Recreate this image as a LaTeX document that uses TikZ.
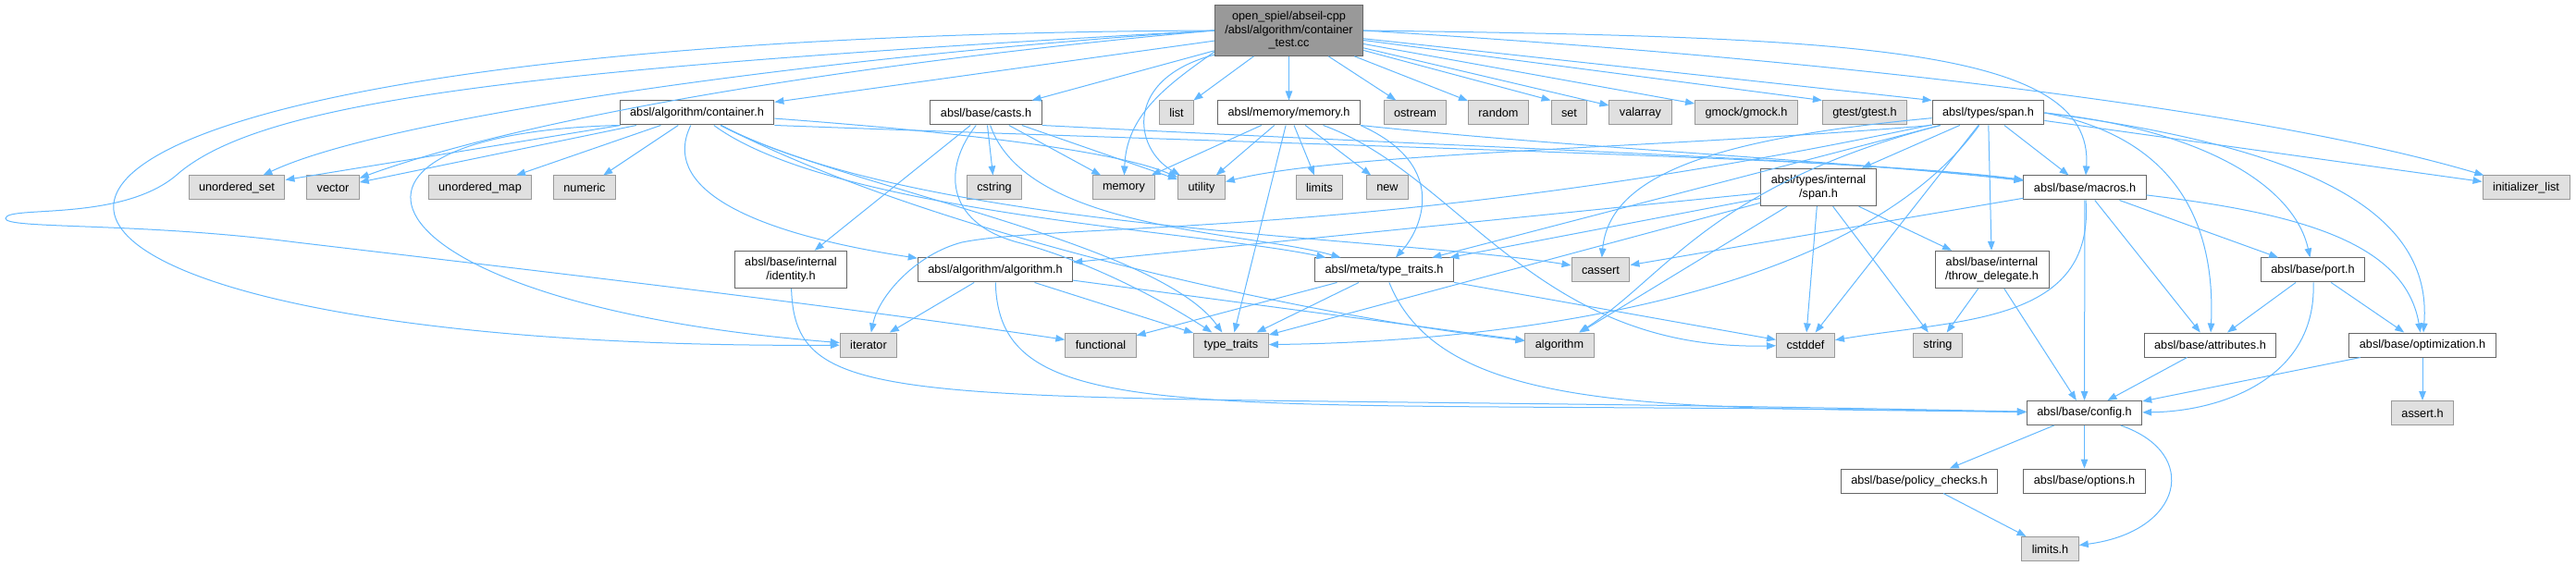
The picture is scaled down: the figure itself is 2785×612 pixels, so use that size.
\documentclass[tikz,border=0pt]{standalone}
\usepackage{fontspec}
\setmainfont{Liberation Sans}
\usepackage{tikz}
\usetikzlibrary{arrows.meta}
\definecolor{edgeblue}{HTML}{63B8FF}
\definecolor{rootgray}{HTML}{999999}
\definecolor{sysfill}{HTML}{E0E0E0}
\definecolor{sysline}{HTML}{999999}
\definecolor{hdrline}{HTML}{666666}

\begin{document}
\begin{tikzpicture}[x=1pt,y=1pt,
  box/.style={rectangle,inner xsep=11pt,inner ysep=7pt,minimum height=26pt,
    line width=1pt,align=center,font=\fontsize{12.7pt}{14.5pt}\selectfont},
  hdr/.style={box,draw=hdrline,fill=white},
  sys/.style={box,draw=sysline,fill=sysfill},
  mainfile/.style={box,draw=hdrline,fill=rootgray},
  dep/.style={draw=edgeblue,line width=1pt,-{Triangle[length=10pt,width=7.5pt]}}]
  \useasboundingbox (0,0) rectangle (2785,-612);

  % The test file
  \node[mainfile] (root) at (1393.5,-33) {open\_spiel/abseil-cpp\\/absl/algorithm/container\\\_test.cc};

  % First row of includes
  \node[hdr] (cont) at (753.5,-122) {absl/algorithm/container.h};
  \node[hdr] (casts) at (1066,-122) {absl/base/casts.h};
  \node[sys] (lst) at (1272,-122) {list};
  \node[hdr] (memh) at (1393.5,-122) {absl/memory/memory.h};
  \node[sys] (ostr) at (1530,-122) {ostream};
  \node[sys] (rnd) at (1620,-122) {random};
  \node[sys] (setn) at (1696.5,-122) {set};
  \node[sys] (valarr) at (1773.5,-122) {valarray};
  \node[sys] (gmock) at (1888,-122) {gmock/gmock.h};
  \node[sys] (gtest) at (2016,-122) {gtest/gtest.h};
  \node[hdr] (span) at (2149.5,-122) {absl/types/span.h};

  % Second row
  \node[sys] (uset) at (256,-203) {unordered\_set};
  \node[sys] (vec) at (360,-203) {vector};
  \node[sys] (umap) at (519,-203) {unordered\_map};
  \node[sys] (numeric) at (632,-203) {numeric};
  \node[sys] (cstring) at (1075,-203) {cstring};
  \node[sys] (memory) at (1215,-203) {memory};
  \node[sys] (utility) at (1299,-203) {utility};
  \node[sys] (limits) at (1426.5,-203) {limits};
  \node[sys] (newhdr) at (1500,-203) {new};
  \node[hdr] (ispan) at (1966,-202.5) {absl/types/internal\\/span.h};
  \node[hdr] (macros) at (2254,-203) {absl/base/macros.h};
  \node[sys] (initl) at (2731,-203) {initializer\_list};

  % Third row
  \node[hdr] (identity) at (855,-291.5) {absl/base/internal\\/identity.h};
  \node[hdr] (algh) at (1076,-292) {absl/algorithm/algorithm.h};
  \node[hdr] (mtt) at (1496.5,-292) {absl/meta/type\_traits.h};
  \node[sys] (cassert) at (1730.5,-292) {cassert};
  \node[hdr] (throwd) at (2153.5,-291.5) {absl/base/internal\\/throw\_delegate.h};
  \node[hdr] (port) at (2500.5,-292) {absl/base/port.h};

  % Fourth row
  \node[sys] (iterator) at (939,-373) {iterator};
  \node[sys] (functional) at (1190,-373) {functional};
  \node[sys] (typetr) at (1331,-373) {type\_traits};
  \node[sys] (algorithm) at (1686,-373) {algorithm};
  \node[sys] (cstddef) at (1952,-373) {cstddef};
  \node[sys] (string) at (2095,-373) {string};
  \node[hdr] (attrs) at (2389.5,-373) {absl/base/attributes.h};
  \node[hdr] (optim) at (2619,-373) {absl/base/optimization.h};

  % Bottom rows
  \node[hdr] (config) at (2253.5,-446.5) {absl/base/config.h};
  \node[sys] (asserth) at (2619,-446.5) {assert.h};
  \node[hdr] (policy) at (2075,-520) {absl/base/policy\_checks.h};
  \node[hdr] (options) at (2253.5,-520) {absl/base/options.h};
  \node[sys] (limitsh) at (2216.5,-593.5) {limits.h};

  % Edges from the test file
  \draw[dep] (root) -- (cont);
  \draw[dep] (root) -- (casts);
  \draw[dep] (root) -- (lst);
  \draw[dep] (root) -- (memh);
  \draw[dep] (root.196) to[out=215,in=88] (memory);
  \draw[dep] (root.198) .. controls (1215,-85) and (1225,-160) .. (utility);
  \draw[dep] (root) -- (ostr);
  \draw[dep] (root) -- (rnd);
  \draw[dep] (root) -- (setn.north west);
  \draw[dep] (root) -- (valarr);
  \draw[dep] (root) -- (gmock);
  \draw[dep] (root) -- (gtest.north west);
  \draw[dep] (root) -- (span.north west);
  \draw[dep] (root.east) .. controls (2000,-40) and (2265,-50) .. (macros);
  \draw[dep] (root.east) .. controls (2000,-65) and (2450,-120) .. (initl);
  \draw[dep] (root.west) .. controls (900,-60) and (420,-125) .. (uset);
  \draw[dep] (root.west) .. controls (900,-70) and (560,-130) .. (vec);
  \draw[dep] (root.west) .. controls (-250,-40) and (-150,-380) .. (iterator);
  \draw[dep] (root.west) .. controls (550,-75) and (280,-110) .. (190,-190)
    .. controls (130,-240) and (8,-222) .. (6,-236)
    .. controls (4,-248) and (150,-240) .. (320,-262)
    .. controls (600,-295) and (900,-330) .. (functional);

  % absl/algorithm/container.h
  \draw[dep] (cont) -- (uset);
  \draw[dep] (cont) -- (vec);
  \draw[dep] (cont) -- (umap);
  \draw[dep] (cont) -- (numeric);
  \draw[dep] (cont.south west) .. controls (300,-145) and (390,-330) .. (iterator);
  \draw[dep] (cont) .. controls (715,-200) and (800,-250) .. (algh);
  \draw[dep] (cont) .. controls (900,-230) and (1300,-250) .. (mtt);
  \draw[dep] (cont) .. controls (900,-200) and (1250,-260) .. (typetr);
  \draw[dep] (cont) .. controls (1000,-250) and (1400,-340) .. (algorithm);
  \draw[dep] (cont) .. controls (1000,-250) and (1500,-255) .. (cassert);
  \draw[dep] (cont.south east) .. controls (1500,-160) and (2000,-170) .. (macros);
  \draw[dep] (cont) .. controls (1000,-140) and (1200,-160) .. (utility);

  % absl/base/casts.h
  \draw[dep] (casts) -- (cstring);
  \draw[dep] (casts) -- (memory);
  \draw[dep] (casts) -- (utility);
  \draw[dep] (casts) -- (identity);
  \draw[dep] (casts) .. controls (1110,-250) and (1350,-250) .. (mtt);
  \draw[dep] (casts) .. controls (1020,-180) and (1020,-240) .. (1100,-262)
    .. controls (1170,-280) and (1250,-320) .. (typetr);
  \draw[dep] (casts.south east) .. controls (1600,-160) and (2000,-172) .. (macros);

  % absl/memory/memory.h
  \draw[dep] (memh) -- (memory);
  \draw[dep] (memh) -- (utility);
  \draw[dep] (memh) -- (limits);
  \draw[dep] (memh) -- (newhdr);
  \draw[dep] (memh) -- (typetr);
  \draw[dep] (memh.south east) .. controls (1570,-180) and (1535,-250) .. (mtt);
  \draw[dep] (memh.south east) .. controls (1700,-160) and (2000,-174) .. (macros);
  \draw[dep] (memh) .. controls (1580,-190) and (1660,-380) .. (cstddef);

  % absl/types/span.h
  \draw[dep] (span.south west) .. controls (1800,-160) and (1450,-165) .. (utility);
  \draw[dep] (span) .. controls (1500,-260) and (1150,-240) .. (1040,-262)
    .. controls (990,-275) and (950,-320) .. (iterator);
  \draw[dep] (span) .. controls (2000,-330) and (1600,-370) .. (typetr);
  \draw[dep] (span) -- (mtt);
  \draw[dep] (span) .. controls (1850,-150) and (1740,-190) .. (cassert);
  \draw[dep] (span) .. controls (1850,-200) and (1800,-300) .. (algorithm);
  \draw[dep] (span) -- (cstddef);
  \draw[dep] (span) -- (ispan);
  \draw[dep] (span) -- (macros);
  \draw[dep] (span) -- (throwd);
  \draw[dep] (span) -- (initl);
  \draw[dep] (span.east) .. controls (2360,-150) and (2395,-250) .. (attrs);
  \draw[dep] (span.east) .. controls (2380,-140) and (2480,-200) .. (port);
  \draw[dep] (span.east) .. controls (2500,-160) and (2630,-230) .. (optim);

  % absl/types/internal/span.h
  \draw[dep] (ispan) -- (algh);
  \draw[dep] (ispan) -- (mtt);
  \draw[dep] (ispan) -- (typetr);
  \draw[dep] (ispan) -- (algorithm);
  \draw[dep] (ispan) -- (cstddef);
  \draw[dep] (ispan) -- (string);
  \draw[dep] (ispan) -- (throwd);

  % Third row headers
  \draw[dep] (identity) .. controls (860,-460) and (1000,-420) .. (config);
  \draw[dep] (algh) -- (iterator);
  \draw[dep] (algh) -- (typetr);
  \draw[dep] (algh) -- (algorithm);
  \draw[dep] (algh) .. controls (1080,-470) and (1300,-430) .. (config);
  \draw[dep] (mtt) -- (functional);
  \draw[dep] (mtt) -- (typetr);
  \draw[dep] (mtt) -- (cstddef);
  \draw[dep] (mtt) .. controls (1560,-450) and (1800,-440) .. (config);
  \draw[dep] (throwd) -- (string);
  \draw[dep] (throwd) -- (config);

  % absl/base/macros.h and below
  \draw[dep] (macros) -- (cassert);
  \draw[dep] (macros) .. controls (2265,-350) and (2120,-345) .. (cstddef);
  \draw[dep] (macros) -- (attrs);
  \draw[dep] (macros) -- (config);
  \draw[dep] (macros) .. controls (2480,-230) and (2600,-260) .. (optim);
  \draw[dep] (macros) -- (port);
  \draw[dep] (port) -- (attrs);
  \draw[dep] (port) -- (optim);
  \draw[dep] (port) .. controls (2505,-410) and (2400,-445) .. (config);
  \draw[dep] (attrs) -- (config);
  \draw[dep] (optim) -- (asserth);
  \draw[dep] (optim) -- (config);
  \draw[dep] (config) -- (policy);
  \draw[dep] (config) -- (options);
  \draw[dep] (config) .. controls (2380,-490) and (2360,-575) .. (limitsh);
  \draw[dep] (policy) -- (limitsh);
\end{tikzpicture}
\end{document}
